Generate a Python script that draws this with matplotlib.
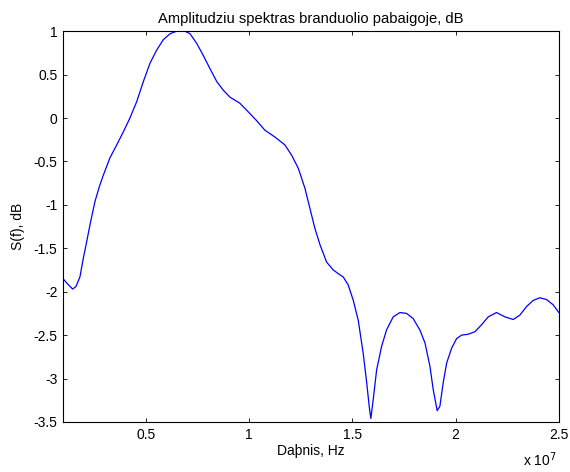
import matplotlib
matplotlib.use("Agg")
import matplotlib.pyplot as plt
import numpy as np

# frequency in units of 1e7 Hz
freq_e7 = [0.100, 0.126, 0.147, 0.163, 0.182, 0.198, 0.215, 0.234, 0.255, 0.276,
           0.295, 0.327, 0.360, 0.392, 0.424, 0.457, 0.489, 0.521, 0.553, 0.585,
           0.618, 0.650, 0.690, 0.715, 0.747, 0.779, 0.811, 0.844, 0.876, 0.908,
           0.956, 0.997, 1.037, 1.077, 1.126, 1.174, 1.207, 1.239, 1.271, 1.295,
           1.319, 1.344, 1.376, 1.408, 1.437, 1.456, 1.480, 1.505, 1.529, 1.553,
           1.570, 1.582, 1.590, 1.601, 1.618, 1.642, 1.666, 1.698, 1.731, 1.763,
           1.795, 1.827, 1.852, 1.876, 1.892, 1.911, 1.924, 1.940, 1.957, 1.981,
           2.005, 2.029, 2.061, 2.094, 2.126, 2.158, 2.198, 2.239, 2.279, 2.311,
           2.344, 2.376, 2.408, 2.440, 2.472, 2.500]
spectrum_db = [-1.85, -1.92, -1.97, -1.94, -1.83, -1.62, -1.42, -1.19, -0.96, -0.79,
               -0.66, -0.46, -0.31, -0.16, 0.00, 0.19, 0.42, 0.63, 0.78, 0.90,
               0.97, 1.00, 1.00, 0.97, 0.86, 0.72, 0.57, 0.42, 0.32, 0.24,
               0.17, 0.07, -0.03, -0.14, -0.22, -0.31, -0.43, -0.58, -0.81, -1.04,
               -1.27, -1.46, -1.66, -1.75, -1.80, -1.83, -1.92, -2.10, -2.33, -2.71,
               -3.05, -3.32, -3.46, -3.25, -2.90, -2.63, -2.44, -2.29, -2.24, -2.25,
               -2.31, -2.44, -2.59, -2.86, -3.13, -3.37, -3.32, -3.05, -2.82, -2.65,
               -2.54, -2.50, -2.49, -2.46, -2.38, -2.29, -2.24, -2.29, -2.32, -2.27,
               -2.17, -2.10, -2.07, -2.09, -2.15, -2.24]

xticks_e7 = [0.5, 1, 1.5, 2, 2.5]
xtick_labels = ['0.5', '1', '1.5', '2', '2.5']
yticks = [1, 0.5, 0, -0.5, -1, -1.5, -2, -2.5, -3, -3.5]

plt.rcParams['font.family'] = ['Liberation Sans', 'DejaVu Sans']
plt.rcParams['font.size'] = 10
plt.rcParams['axes.unicode_minus'] = False

freq = np.array(freq_e7) * 1e7

fig = plt.figure(figsize=(5.7, 4.72), dpi=100)
ax = fig.add_axes([0.1105, 0.106, 0.870, 0.828])
ax.plot(freq, spectrum_db, color='blue', lw=0.9)

ax.set_xlim(0.1e7, 2.5e7)
ax.set_ylim(-3.5, 1)
ax.set_xticks(np.array(xticks_e7) * 1e7)
ax.set_xticklabels(xtick_labels)
ax.set_yticks(yticks)
ax.set_yticklabels([f'{v:g}' for v in yticks])
ax.tick_params(direction='in', top=True, right=True, length=3, width=0.6, pad=4)
for s in ax.spines.values():
    s.set_linewidth(0.8)

ax.set_title('Amplitudziu spektras branduolio pabaigoje, dB', fontsize=10.6, pad=6)
ax.set_xlabel('Daþnis, Hz', labelpad=2)
ax.set_ylabel('S(f), dB', labelpad=6)
fig.text(0.918, 0.012, r'x 10$^{7}$', fontsize=10)

fig.savefig('out.png', dpi=100)
